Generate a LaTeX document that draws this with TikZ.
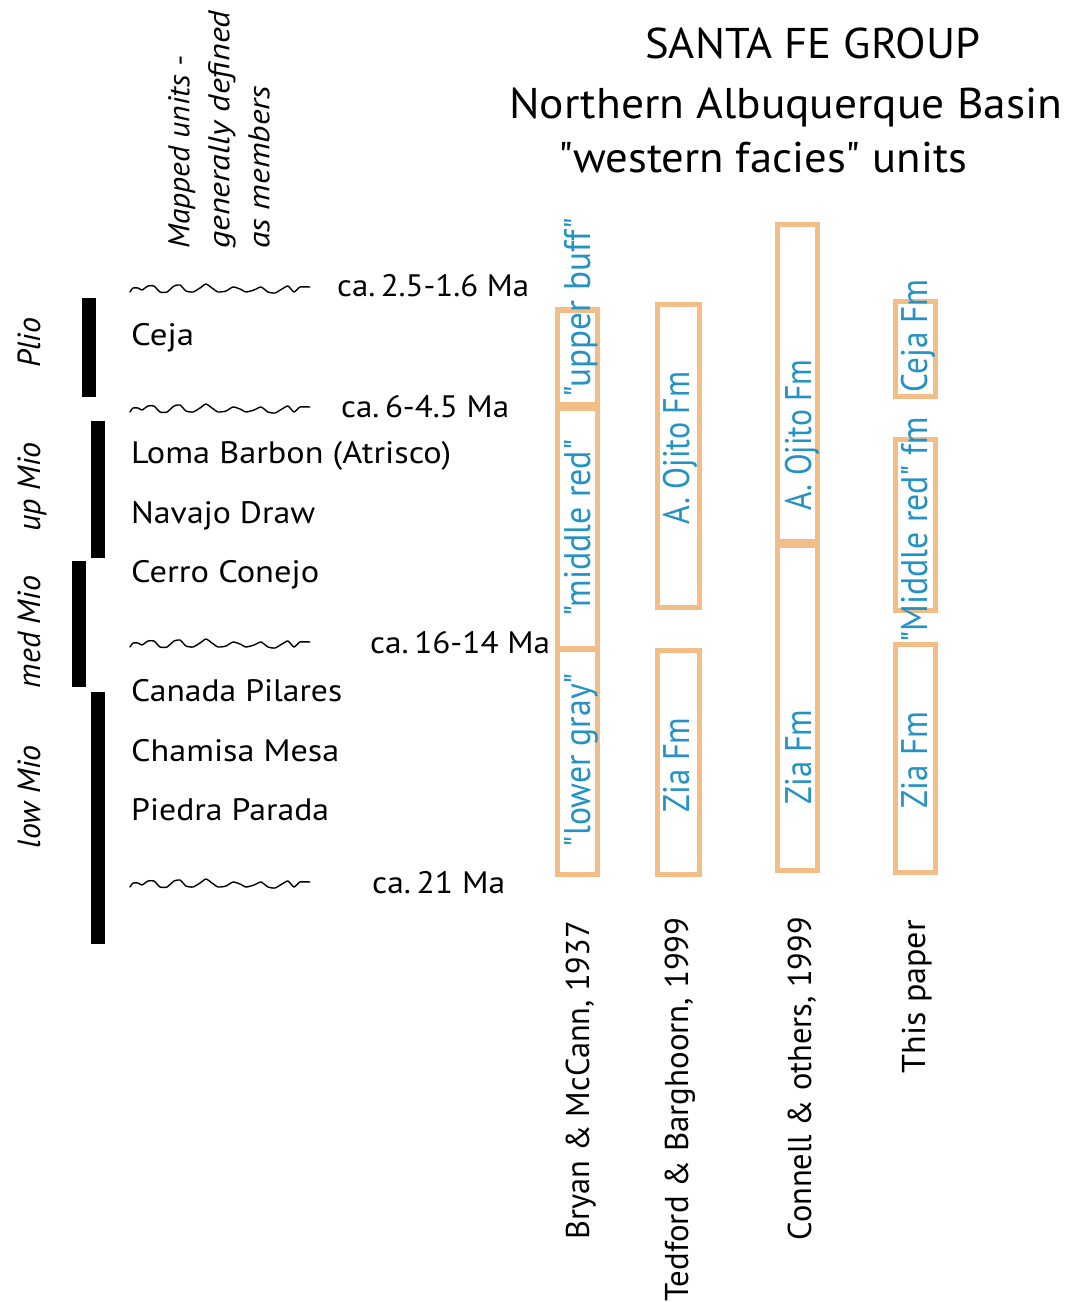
\documentclass[tikz,border=0pt]{standalone}
\usepackage{fontspec}
\setmainfont{PT Sans}[Ligatures=TeXOff]
\usepackage{graphicx}
\definecolor{unitorange}{RGB}{243,189,135}
\definecolor{unitblue}{RGB}{36,146,195}
% scale a text horizontally to a given width (in pt), keeping its height
\newcommand{\fitto}[2]{\resizebox{#1pt}{\height}{#2}}

\begin{document}
\begin{tikzpicture}[x=1pt,y=-1pt,
  title/.style={font=\fontsize{43}{50}\selectfont, inner sep=0, anchor=base west},
  unit/.style={font=\fontsize{31}{36}\selectfont, inner sep=0, anchor=base west},
  header/.style={font=\fontsize{30}{40}\selectfont\itshape, inner sep=0, align=left, rotate=90, anchor=north west},
  epoch/.style={font=\fontsize{32}{36}\selectfont\itshape, inner sep=0, rotate=90, anchor=base},
  ref/.style={font=\fontsize{33}{38}\selectfont, inner sep=0, rotate=90, anchor=base east},
  fm/.style={font=\fontsize{37}{40}\selectfont, text=unitblue, inner sep=0, rotate=90, anchor=base},
  fmbox/.style={draw=unitorange, line width=5.5pt},
  bar/.style={fill=black},
  wave/.style={line width=1.4pt, line join=round, line cap=round}
]
\useasboundingbox (0,0) rectangle (1070,1302);

% ---- title
\node[title] (t1) at (645,58)  {\fitto{335}{SANTA FE GROUP}};
\node[title] (t2) at (509,118) {\fitto{553}{Northern Albuquerque Basin}};
\node[title] (t3) at (558,172) {\fitto{409}{"western facies" units}};

% ---- column header for the mapped units
\node[header] (hdr) at (168,249)
  {\fitto{193}{Mapped units -}\\\fitto{238}{generally defined}\\\fitto{163}{as members}};

% ---- epoch bars
\fill[bar] (82,298) rectangle (96,397);
\fill[bar] (91,421) rectangle (105,558);
\fill[bar] (72,561) rectangle (86,687);
\fill[bar] (91,692) rectangle (105,944);

\node[epoch] (plio) at (40,343) {Plio};
\node[epoch] (upm)  at (40,487) {up Mio};
\node[epoch] (medm) at (40,632) {med Mio};
\node[epoch] (lowm) at (40,797) {low Mio};

% ---- unconformities (wavy lines) and their ages
\foreach \wy in {289,409,644,884}
  \draw[wave, shift={(130,\wy)}] plot[smooth, tension=0.35] coordinates {
    (0,3) (3,-1) (8,-1) (12,1) (18,-3) (24,-3) (30,3) (37,3) (44,-3)
    (50,-4) (56,2) (63,3) (70,-1) (76,-5) (82,-1) (88,3) (96,2) (103,-2)
    (110,0) (116,3) (124,1) (131,-2) (138,3) (145,4) (152,0) (158,-3)
    (164,3) (170,-2) (180,-2)};

\node[unit] (a1) at (337,296) {\fitto{192}{ca.\,2.5-1.6 Ma}};
\node[unit] (a2) at (341,417) {\fitto{168}{ca.\,6-4.5 Ma}};
\node[unit] (a3) at (370,653) {\fitto{180}{ca.\,16-14 Ma}};
\node[unit] (a4) at (372,893) {\fitto{133}{ca.\,21 Ma}};

% ---- mapped units
\node[unit] (ceja)  at (131,345) {\fitto{63}{Ceja}};
\node[unit] (loma)  at (131,463) {\fitto{320}{Loma Barbon (Atrisco)}};
\node[unit] (nav)   at (131,523) {\fitto{184}{Navajo Draw}};
\node[unit] (cerro) at (131,582) {\fitto{188}{Cerro Conejo}};
\node[unit] (cana)  at (131,701) {\fitto{211}{Canada Pilares}};
\node[unit] (cham)  at (131,761) {\fitto{208}{Chamisa Mesa}};
\node[unit] (pied)  at (131,820) {\fitto{198}{Piedra Parada}};

% ---- formation columns
% Bryan & McCann, 1937
\draw[fmbox] (557.5,310) rectangle (597.5,405);
\draw[fmbox] (557.5,408) rectangle (597.5,649);
\draw[fmbox] (557.5,649) rectangle (597.5,874.5);
% Tedford & Barghoorn, 1999
\draw[fmbox] (657.5,304.5) rectangle (699.5,607.5);
\draw[fmbox] (657.5,650.5) rectangle (699.5,874.5);
% Connell & others, 1999
\draw[fmbox] (777.5,224.5) rectangle (817.5,542);
\draw[fmbox] (777.5,545) rectangle (817.5,870.5);
% This paper
\draw[fmbox] (895.5,301.5) rectangle (935.5,396.5);
\draw[fmbox] (895.5,439.5) rectangle (935.5,610.5);
\draw[fmbox] (895.5,644.5) rectangle (935.5,872.5);

\node[fm] (bm1) at (590,307.5) {\fitto{179}{"upper buff"}};
\node[fm] (bm2) at (590,528)   {\fitto{177}{"middle red"}};
\node[fm] (bm3) at (590,760)   {\fitto{174}{"lower gray"}};
\node[fm] (tb1) at (689,448)   {\fitto{153}{A. Ojito Fm}};
\node[fm] (tb2) at (689,765)   {\fitto{95}{Zia Fm}};
\node[fm] (co1) at (811,435)   {\fitto{151}{A. Ojito Fm}};
\node[fm] (co2) at (811,757)   {\fitto{95}{Zia Fm}};
\node[fm] (tp1) at (927,336)   {\fitto{113}{Ceja Fm}};
\node[fm] (tp2) at (927,530)   {\fitto{225}{"Middle red" fm}};
\node[fm] (tp3) at (927,760)   {\fitto{96}{Zia Fm}};

% ---- column references
\node[ref] (r1) at (589,921) {\fitto{318}{Bryan \& McCann, 1937}};
\node[ref] (r2) at (688,917) {\fitto{384}{Tedford \& Barghoorn, 1999}};
\node[ref] (r3) at (811,917) {\fitto{323}{Connell \& others, 1999}};
\node[ref] (r4) at (925,920) {\fitto{153}{This paper}};
\end{tikzpicture}
\end{document}
